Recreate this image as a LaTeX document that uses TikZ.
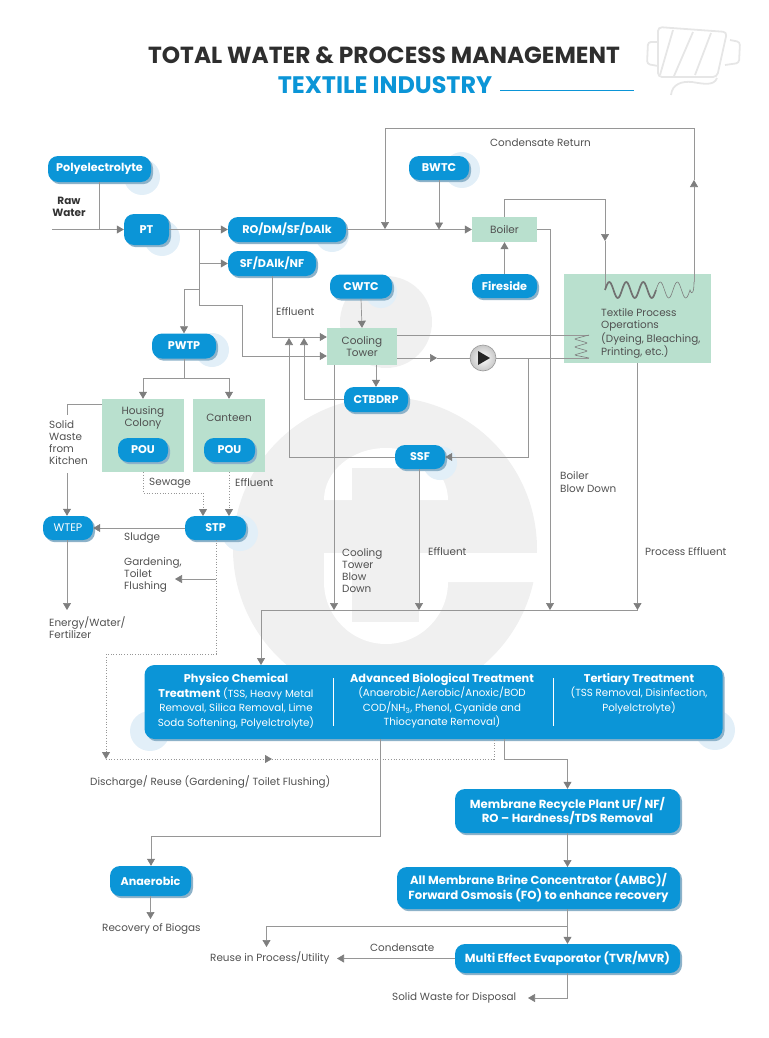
\documentclass[tikz,border=0pt]{standalone}
\usepackage{fontspec}
\setmainfont{Poppins}
\usetikzlibrary{arrows.meta,positioning,shadows,calc}
\definecolor{pipeblue}{HTML}{0B95D7}
\definecolor{shadeblue}{HTML}{8DB2C9}
\definecolor{haloblue}{HTML}{E2EFF8}
\definecolor{mint}{HTML}{B9E0CE}
\definecolor{linegray}{HTML}{969696}
\definecolor{tipgray}{HTML}{7E7E7E}
\definecolor{logogray}{HTML}{F0F0F0}
\definecolor{spoolgray}{HTML}{E6E6E6}
\definecolor{inkgray}{HTML}{505050}
\begin{document}
\begin{tikzpicture}[x=1pt,y=-1pt]
\tikzstyle{every node}+=[inner sep=0pt]
\tikzstyle{pill}=[rectangle,rounded corners=10pt,fill=pipeblue,text=white,align=center,font=\fontsize{11.2}{14.4}\selectfont\bfseries,drop shadow={shadow xshift=2pt,shadow yshift=-2.2pt,fill=shadeblue,opacity=1}]
\tikzstyle{longpill}=[pill,font=\fontsize{11.7}{14.4}\selectfont\bfseries]
\tikzstyle{plant}=[rectangle,fill=mint,text=inkgray,align=center,font=\fontsize{10.5}{12.2}\selectfont]
\tikzstyle{note}=[text=inkgray,align=left,anchor=west,font=\fontsize{10.4}{12.2}\selectfont]
\tikzstyle{halo}=[fill=haloblue]
\tikzstyle{pipe}=[draw=linegray,line width=0.7pt]
\tikzstyle{flow}=[pipe,-{Triangle[length=7pt,width=8pt,color=tipgray]}]
\tikzstyle{seep}=[flow,dotted,line width=0.8pt]
\tikzstyle{paneltext}=[text=white,align=center,font=\fontsize{10.3}{14.5}\selectfont]
\newcommand{\panelhead}[1]{{\fontsize{11.3}{14.5}\selectfont\bfseries #1}}
\useasboundingbox (0,0) rectangle (768,1038);

\fill [logogray] (385,549) circle (152);
\fill [logogray] (386,322) circle (46);
\fill [white] (324,500) arc [start angle=180,end angle=360,x radius=62,y radius=52] -- cycle;
\fill [white] (324,553) -- (540,553) -- (540,582) -- (448,582) arc [start angle=0,end angle=180,radius=62] -- cycle;
\fill [logogray] (352,468) rectangle (419,622);

\draw [spoolgray,line width=1.8pt,rounded corners=4pt] (658,27) -- (727,32) -- (717,77) -- (658,77) -- cycle;
\draw [spoolgray,line width=1.8pt,rounded corners=3pt] (658,42) -- (648,42) -- (647,64) -- (658,66);
\draw [spoolgray,line width=1.8pt,rounded corners=3pt] (730,40) -- (740,42) -- (739,63) -- (725,65);
\draw [spoolgray,line width=1.8pt] (673,30) -- (660,75) (693,32) -- (674,76) (711,33) -- (695,75);
\draw [spoolgray,line width=1.8pt] (717,78) .. controls (714,86) and (704,84) .. (692,82) .. controls (682,81) and (672,84) .. (671,95);

\fill [halo] (142,177) circle (18);
\fill [halo] (162,238) circle (18);
\fill [halo] (332,235) circle (17);
\fill [halo] (381,292) circle (16);
\fill [halo] (212,350) circle (17);
\fill [halo] (462,170) circle (18);
\fill [halo] (440,463) circle (17);
\fill [halo] (240,533) circle (18);
\fill [halo] (150,731) circle (20);
\fill [halo] (715,730) circle (20);

\node (heading) at (384,55) [text=black!82,font=\fontsize{23.3}{26}\selectfont\bfseries] {TOTAL WATER \& PROCESS MANAGEMENT};
\node (subheading) at (385,85) [text=pipeblue,font=\fontsize{23.9}{26}\selectfont\bfseries] {TEXTILE INDUSTRY};
\coordinate (ruleleft) at (500,91);
\coordinate (ruleright) at (634,91);
\draw [pipeblue,line width=1pt] (ruleleft) -- (ruleright);

\node (polyel) at (99.5,169) [pill,minimum width=103pt,minimum height=26pt] {Polyelectrolyte};
\node (pt) at (146.5,229.5) [pill,minimum width=45pt,minimum height=31pt] {PT};
\node (rodm) at (287,229.5) [pill,minimum width=118pt,minimum height=25pt] {RO/DM/SF/DAlk};
\node (sfdalk) at (272,263.5) [pill,minimum width=88pt,minimum height=25pt] {SF/DAlk/NF};
\node (cwtc) at (361,286.5) [pill,minimum width=62pt,minimum height=24pt] {CWTC};
\node (pwtp) at (184,346) [pill,minimum width=64pt,minimum height=25pt] {PWTP};
\node (bwtc) at (439,168) [pill,minimum width=60pt,minimum height=24pt] {BWTC};
\node (fireside) at (504.5,286) [pill,minimum width=65pt,minimum height=24pt] {Fireside};
\node (ctbdrp) at (376,399.5) [pill,minimum width=64pt,minimum height=25pt] {CTBDRP};
\node (ssf) at (420,457) [pill,minimum width=50pt,minimum height=24pt] {SSF};
\node (boiler) at (504.5,229.5) [plant,minimum width=65pt,minimum height=25pt] {Boiler};
\node (cooling) at (362,346.5) [plant,minimum width=70pt,minimum height=37pt] {Cooling\\Tower};
\node (textile) at (637.5,318.5) [plant,minimum width=147pt,minimum height=89pt] {};
\node (textilelabel) at (601,333.5) [note] {Textile Process\\Operations\\(Dyeing, Bleaching,\\Printing, etc.)};
\node (housing) at (143,435.5) [plant,minimum width=82pt,minimum height=73pt] {};
\node (housinglabel) at (143,418) [plant,fill=none] {Housing\\Colony};
\node (canteen) at (229,435.5) [plant,minimum width=72pt,minimum height=73pt] {};
\node (canteenlabel) at (229,418) [plant,fill=none] {Canteen};
\node (pouhouse) at (143,450) [pill,minimum width=50pt,minimum height=24pt] {POU};
\node (poucanteen) at (229.5,450) [pill,minimum width=51pt,minimum height=24pt] {POU};
\node (stp) at (215.5,528) [pill,minimum width=61pt,minimum height=24pt] {STP};
\node (wtep) at (68,528) [pill,minimum width=50pt,minimum height=24pt,font=\fontsize{11}{14.4}\selectfont] {WTEP};
\node (pump) at (483,358) [circle,minimum size=26pt,draw=black!40,line width=0.6pt,shade,inner color=white,outer color=black!22] {};
\fill [black!85] (478,351) -- (478,365) -- (490,358) -- cycle;

\node (panel) at (433.5,702) [pill,minimum width=578pt,minimum height=74pt] {};
\node (physico) at (236,701.5) [paneltext] {\panelhead{Physico Chemical}\\\panelhead{Treatment} (TSS, Heavy Metal\\Removal, Silica Removal, Lime\\Soda Softening, Polyelctrolyte)};
\node (advanced) at (442,701) [paneltext] {\panelhead{Advanced Biological Treatment}\\(Anaerobic/Aerobic/Anoxic/BOD\\COD/NH\textsubscript{3}, Phenol, Cyanide and\\Thiocyanate Removal)};
\node (tertiary) at (639,693.5) [paneltext] {\panelhead{Tertiary Treatment}\\(TSS Removal, Disinfection,\\Polyelctrolyte)};
\coordinate (divonetop) at (333,678);
\coordinate (divonebot) at (333,726);
\coordinate (divtwotop) at (553,678);
\coordinate (divtwobot) at (553,726);
\draw [white,line width=0.5pt] (divonetop) -- (divonebot);
\draw [white,line width=0.5pt] (divtwotop) -- (divtwobot);
\node (membrane) at (567.5,811) [longpill,minimum width=225pt,minimum height=44pt] {Membrane Recycle Plant UF/ NF/\\RO -- Hardness/TDS Removal};
\node (ambc) at (538.5,888) [longpill,minimum width=283pt,minimum height=42pt] {All Membrane Brine Concentrator (AMBC)/\\Forward Osmosis (FO) to enhance recovery};
\node (mee) at (567.5,958.5) [longpill,minimum width=225pt,minimum height=29pt] {Multi Effect Evaporator (TVR/MVR)};
\node (anaerobic) at (150.5,881) [pill,minimum width=81pt,minimum height=30pt] {Anaerobic};

\node (rawwater) at (69,207) [text=black!80,align=center,font=\fontsize{10.5}{11.4}\selectfont\bfseries] {Raw\\Water};
\node (condreturn) at (490,143) [note] {Condensate Return};
\node (effluentsf) at (276,311.5) [note] {Effluent};
\node (solidwaste) at (49,442.5) [note] {Solid\\Waste\\from\\Kitchen};
\node (sewage) at (149,483) [note] {Sewage};
\node (effluentcan) at (235,483) [note] {Effluent};
\node (sludge) at (124,538) [note] {Sludge};
\node (gardening) at (124,575) [note] {Gardening,\\Toilet\\Flushing};
\node (energy) at (49,628) [note] {Energy/Water/\\Fertilizer};
\node (blowdown) at (342,570.5) [note] {Cooling\\Tower\\Blow\\Down};
\node (effluentssf) at (428,552) [note] {Effluent};
\node (boilerblow) at (560,482) [note] {Boiler\\Blow Down};
\node (processeff) at (645,552) [note] {Process Effluent};
\node (discharge) at (90,782) [note] {Discharge/ Reuse (Gardening/ Toilet Flushing)};
\node (biogas) at (102,929) [note] {Recovery of Biogas};
\node (reuse) at (210,958) [note] {Reuse in Process/Utility};
\node (condensate) at (370,948) [note] {Condensate};
\node (disposal) at (392,998) [note] {Solid Waste for Disposal};

\coordinate (rawin) at (52,229.5);
\draw [flow] (rawin) -- (pt.west);
\draw [pipe] (polyel.south) -- (polyel.south |- rawin);
\draw [flow] (pt.east) -- (rodm.west);
\coordinate (teeone) at (199,229.5);
\coordinate (teetwo) at (199,289);
\draw [pipe] (teeone) -- (199,305) -- (242,305) -- (242,356);
\draw [flow] (242,356) -- (cooling.west |- 242,356);
\draw [flow] (199,263.5) -- (sfdalk.west);
\draw [flow] (teetwo) -| (pwtp.north);
\draw [flow] (272,276) -- (272,337) -- (cooling.west |- 272,337);
\draw [flow] (cwtc.south) -- (cooling.north);
\draw [flow] (rodm.east) -- (boiler.west);

\coordinate (coilend) at (694,282);
\coordinate (returnup) at (694,180);
\coordinate (returndown) at (385,229);
\draw [flow] (coilend) -- (returnup);
\draw [flow] (returnup) -- (694,128) -- (385,128) -- (returndown);
\draw [flow] (bwtc.south) -- (bwtc.south |- boiler.west);
\draw [flow] (fireside.north) -- (boiler.south);
\coordinate (steamdown) at (605,241);
\coordinate (coilstart) at (605,290);
\draw [flow] (boiler.north) -- (504.5,199) -- (605,199) -- (steamdown);
\draw [pipe] (steamdown) -- (coilstart);
\draw [tipgray!90!black,line width=1.7pt] plot [smooth,domain=605:656,samples=61] (\x,{290-8*sin((\x-605)/17*360)});
\draw [tipgray,line width=0.6pt] plot [smooth,domain=656:690,samples=41] (\x,{290-8*sin((\x-605)/17*360)}) .. controls (692,296) and (694,292) .. (coilend);

\coordinate (boilerdrop) at (550,610);
\draw [flow] (boiler.east) -| (boilerdrop);
\coordinate (towerout) at (589,335);
\coordinate (zigout) at (589,358);
\draw [pipe] (cooling.east |- towerout) -- (towerout);
\draw [tipgray,line width=0.6pt,rounded corners=2pt] (towerout) -- (574,339) -- (588,343) -- (574,347) -- (588,351) -- (574,355) -- (zigout);
\coordinate (pumparrow) at (437,358);
\draw [flow] (cooling.east |- pump.west) -- (pumparrow);
\draw [pipe] (pumparrow) -- (pump.west);
\draw [pipe] (pump.east) -- (zigout);
\draw [flow] (528,358) -- (528,457) -- (ssf.east);
\draw [flow] (ssf.west) -- (289,457) -- (289,338);
\draw [flow] (ctbdrp.west) -- (304,399.5) -- (304,338);
\draw [flow] (ctbdrp.north |- cooling.south) -- (ctbdrp.north);
\coordinate (towerdrop) at (334,610);
\coordinate (ssfdrop) at (419,610);
\coordinate (processdrop) at (637.5,610);
\draw [flow] (towerdrop |- cooling.south) -- (towerdrop);
\draw [flow] (ssf.south -| ssfdrop) -- (ssfdrop);
\draw [flow] (textile.south) -- (processdrop);
\draw [flow] (processdrop) -- (261,610) -- (261,665);

\coordinate (splitpwtp) at (184,378);
\draw [pipe] (pwtp.south) -- (splitpwtp);
\draw [flow] (splitpwtp) -| (housing.north);
\draw [flow] (splitpwtp) -| (canteen.north);
\draw [pipe] (102,404) -- (67,404) -- (67,415);
\draw [flow] (67,473) -- (wtep.north -| 67,473);
\draw [seep] (housing.south) -- (143,493) -- (203,493) -- (203,516);
\draw [seep] (canteen.south) -- (229,516);
\draw [flow] (stp.west) -- (wtep.east);
\draw [flow] (67,540) -- (67,610);
\coordinate (dotcorner) at (106,759);
\coordinate (dotmiddle) at (272,759);
\draw [seep] (216,540) -- (216,654) -- (106,654) -- (dotcorner);
\draw [seep] (dotcorner) -- (dotmiddle);
\draw [seep,-] (dotmiddle) -- (494,759) -- (494,739);
\coordinate (gardenend) at (175,579);
\draw [flow] (216,579) -- (gardenend);

\draw [flow] (380,739) -- (380,836) -- (151,836) -- (anaerobic.north -| 151,836);
\draw [flow] (504,739) -- (504,759) -- (567.5,759) -- (membrane.north);
\draw [flow] (membrane.south) -- (567.5,867);
\draw [flow] (567.5,909) -- (mee.north);
\coordinate (biogasend) at (150.5,919);
\coordinate (reuseend) at (266.5,947);
\coordinate (condend) at (337,958.5);
\coordinate (solidend) at (528,998);
\draw [flow] (anaerobic.south) -- (biogasend);
\draw [flow] (567.5,926) -- (266.5,926) -- (reuseend);
\draw [flow] (mee.west) -- (condend);
\draw [flow] (mee.south) -- (567.5,998) -- (solidend);
\end{tikzpicture}
\end{document}
